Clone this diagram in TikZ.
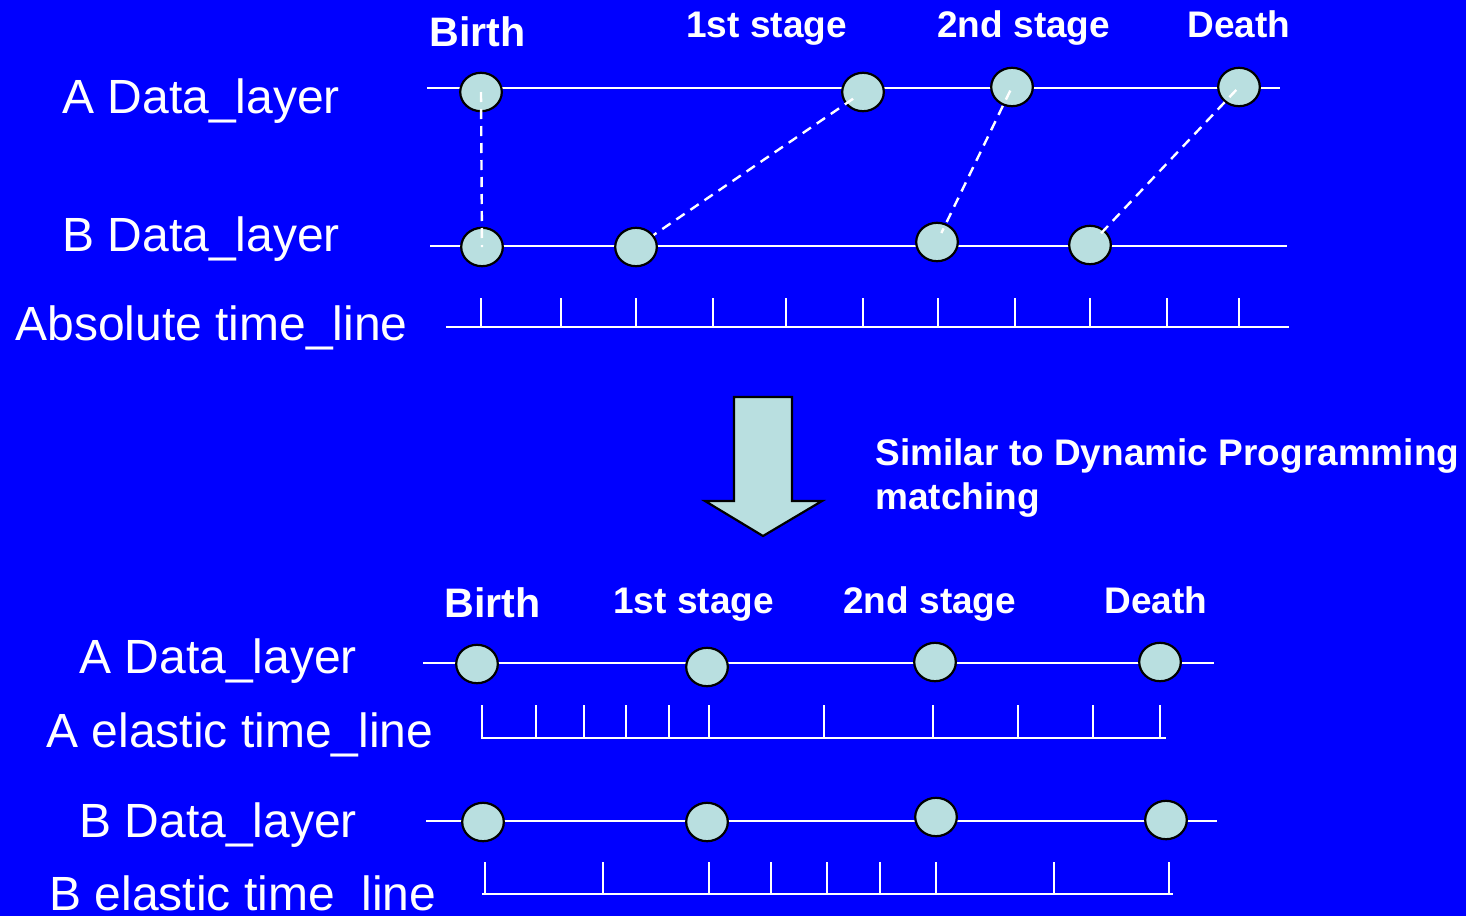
\documentclass[tikz,border=0pt]{standalone}
\usepackage{fontspec}
\setmainfont{Liberation Sans}
\usetikzlibrary{shapes.geometric}
\definecolor{slideblue}{RGB}{0,0,255}
\definecolor{dotfill}{RGB}{185,223,224}
\begin{document}
\begin{tikzpicture}[x=0.5pt,y=-0.5pt,
    every node/.style = {inner sep=0pt, text=white},
    dot/.style = {shape=ellipse, draw=black, line width=1.1pt, fill=dotfill,
      minimum width=20.8pt, minimum height=19.2pt},
    lbl/.style = {anchor=base west, font=\fontsize{24}{28}\selectfont},
    stage/.style = {anchor=base west, font=\bfseries\fontsize{18.5}{22}\selectfont},
    birth/.style = {stage, font=\bfseries\fontsize{20.6}{24}\selectfont},
    wire/.style = {draw=white, line width=1.1pt},
    link/.style = {draw=white, line width=1.2pt, dash pattern=on 5pt off 3.5pt}]
\useasboundingbox (0,0) rectangle (1466,916);
\fill[slideblue] (0,0) rectangle (1466,916);

% before: absolute time
\node[birth] (birthT) at (429,46) {Birth};
\node[stage] (firstT) at (686,37) {1st stage};
\node[stage] (secondT) at (937,37) {2nd stage};
\node[stage] (deathT) at (1187,37) {Death};
\node[lbl] (aLayerT) at (62,113) {A Data\_layer};
\node[lbl] (bLayerT) at (62,251) {B Data\_layer};
\node[lbl] (absT) at (15,340) {Absolute time\_line};

\coordinate (aTl) at (427,88); \coordinate (aTr) at (1280,88);
\coordinate (bTl) at (430,246); \coordinate (bTr) at (1287,246);
\draw[wire] (aTl) -- (aTr);
\draw[wire] (bTl) -- (bTr);
\node[dot] (a1) at (481,92) {};
\node[dot] (a2) at (863,92) {};
\node[dot] (a3) at (1012,87) {};
\node[dot] (a4) at (1239,87) {};
\node[dot] (b1) at (482,247) {};
\node[dot] (b2) at (636,247) {};
\node[dot] (b3) at (937,242) {};
\node[dot] (b4) at (1090,245) {};
\draw[link] (a1.center) -- (b1.center);
\draw[link, shorten <=6pt] (a2.center) -- (b2);
\draw[link, shorten <=2pt, shorten >=5pt] (a3.center) -- (b3.center);
\draw[link, shorten <=2pt, shorten >=5pt] (a4.center) -- (b4.center);

\draw[wire] (446,327) -- (1289,327);
\foreach \x in {481,561,636,713,786,863,938,1015,1090,1167,1239}
  \draw[wire] (\x,298) -- (\x,327);

% matching step
\draw[fill=dotfill, draw=black, line width=1.1pt]
  (734,397) -- (792,397) -- (792,501) -- (822,501) -- (763,536)
  -- (705,501) -- (734,501) -- cycle;
\node[stage] (dpT) at (875,465) {Similar to Dynamic Programming};
\node[stage] (dpM) at (875,509) {matching};

% after: elastic time
\node[birth] (birthB) at (444,617) {Birth};
\node[stage] (firstB) at (613,613) {1st stage};
\node[stage] (secondB) at (843,613) {2nd stage};
\node[stage] (deathB) at (1104,613) {Death};
\node[lbl] (aLayerB) at (79,673) {A Data\_layer};
\node[lbl] (aElastic) at (46,747) {A elastic time\_line};
\node[lbl] (bLayerB) at (79,837) {B Data\_layer};
\node[lbl] (bElastic) at (49,910) {B elastic time\_line};

\coordinate (aBl) at (423,663); \coordinate (aBr) at (1214,663);
\coordinate (bBl) at (426,821); \coordinate (bBr) at (1217,821);
\draw[wire] (aBl) -- (aBr);
\draw[wire] (bBl) -- (bBr);
\node[dot] (c1) at (477,664) {};
\node[dot] (c2) at (707,667) {};
\node[dot] (c3) at (935,662) {};
\node[dot] (c4) at (1160,662) {};
\node[dot] (d1) at (483,822) {};
\node[dot] (d2) at (707,822) {};
\node[dot] (d3) at (936,817) {};
\node[dot] (d4) at (1166,820) {};

\draw[wire] (481,738) -- (1166,738);
\foreach \x in {482,536,584,626,669,709,824,933,1018,1093,1160}
  \draw[wire] (\x,705) -- (\x,738);
\draw[wire] (482,894) -- (1173,894);
\foreach \x in {485,603,709,771,827,880,936,1054,1169}
  \draw[wire] (\x,862) -- (\x,894);
\end{tikzpicture}
\end{document}
